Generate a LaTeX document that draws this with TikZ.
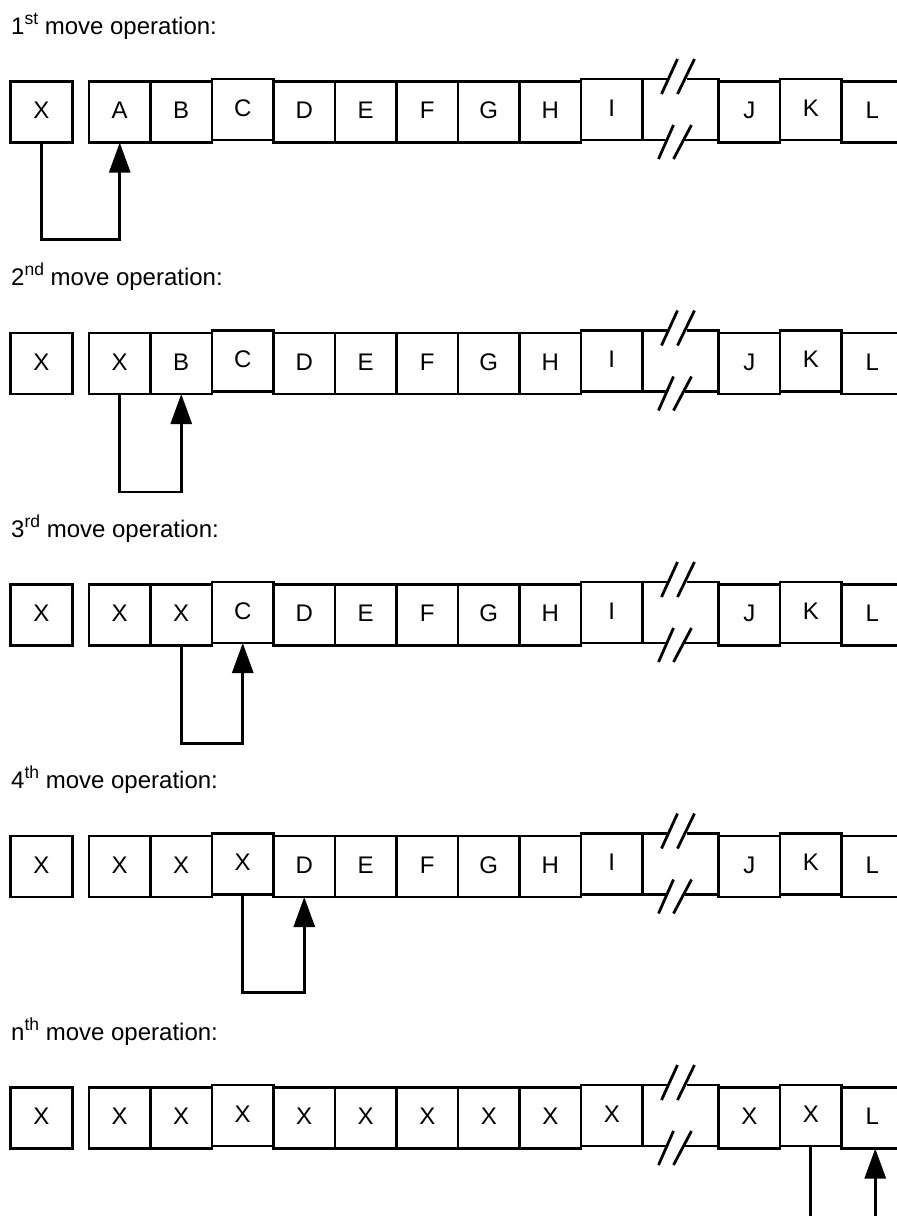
\documentclass[tikz,border=0pt]{standalone}
\usepackage{fontspec}
\setmainfont{Liberation Sans}
\usetikzlibrary{arrows.meta}
\begin{document}
\begin{tikzpicture}[x=1pt,y=-1pt,
  cell/.style={draw, line width=2.8pt, minimum width=61.5pt, minimum height=61pt, inner sep=0pt, outer sep=0pt, font=\fontsize{24}{28}\selectfont, text height=17pt, text depth=4pt},
  gapcell/.style={minimum width=76pt, minimum height=61pt, inner sep=0pt, outer sep=0pt},
  seg/.style={line width=2.8pt},
  conn/.style={line width=2.8pt},
  tip/.style={-{Triangle[length=30pt,width=21pt]}},
  title/.style={anchor=base west, inner sep=0pt, font=\fontsize{24}{28}\selectfont}]
\useasboundingbox (0,0) rectangle (897,1216);
\clip (0,0) rectangle (897,1216);
\newcommand\supr[1]{\raisebox{10pt}{\fontsize{17.5}{18}\selectfont #1}}
% titles
\node[title] (t0) at (11,34) {1\supr{st} move operation:};
\node[title] (t1) at (11,285.5) {2\supr{nd} move operation:};
\node[title] (t2) at (11,537) {3\supr{rd} move operation:};
\node[title] (t3) at (11,788.5) {4\supr{th} move operation:};
\node[title] (t4) at (11,1040) {n\supr{th} move operation:};
% rows
\foreach \r/\labs in {0/{A,B,C,D,E,F,G,H,I,J,K,L},
                      1/{X,B,C,D,E,F,G,H,I,J,K,L},
                      2/{X,X,C,D,E,F,G,H,I,J,K,L},
                      3/{X,X,X,D,E,F,G,H,I,J,K,L},
                      4/{X,X,X,X,X,X,X,X,X,X,X,L}}{
  \pgfmathsetmacro\yc{112+251.5*\r}
  \node[cell] (x\r) at (41.5,\yc) {X};
  \foreach \l [count=\jj from 0] in \labs {
    \pgfmathsetmacro\dy{(\jj==2 || \jj==8 || \jj==10) ? -2.5 : 0}
    \pgfmathsetmacro\xx{\jj<9 ? 119.75+61.5*\jj : 749.25+61.5*(\jj-9)}
    \node[cell] (b\r-\jj) at (\xx,\yc+\dy) {\l};
  }
  \node[gapcell] (brk\r) at (680.5,\yc-2.5) {};
  \draw[seg] (brk\r.north west) ++(24,0) -- (brk\r.north west) -- (brk\r.south west) -- ++(24,0);
  \draw[seg] (brk\r.north east) ++(-32,0) -- (brk\r.north east) -- (brk\r.south east) -- ++(-34,0);
  \draw[seg] (brk\r.north west) ++(19,15) -- ++(16,-35);
  \draw[seg] (brk\r.north west) ++(35,15) -- ++(17,-35);
  \draw[seg] (brk\r.south west) ++(16,19) -- ++(15,-34);
  \draw[seg] (brk\r.south west) ++(31,19) -- ++(18,-34);
}
% move connectors
\draw[conn,tip] (x0.south) -- ++(0,97) -| (b0-0.south);
\draw[conn,tip] (b1-0.south) -- ++(0,98) -| (b1-1.south);
\draw[conn,tip] (b2-1.south) -- ++(0,98) -| (b2-2.south);
\draw[conn,tip] (b3-2.south) -- ++(0,98) -| (b3-3.south);
\draw[conn,tip] (b4-10.south) -- ++(0,78) -| ([xshift=3pt]b4-11.south);
\end{tikzpicture}
\end{document}
